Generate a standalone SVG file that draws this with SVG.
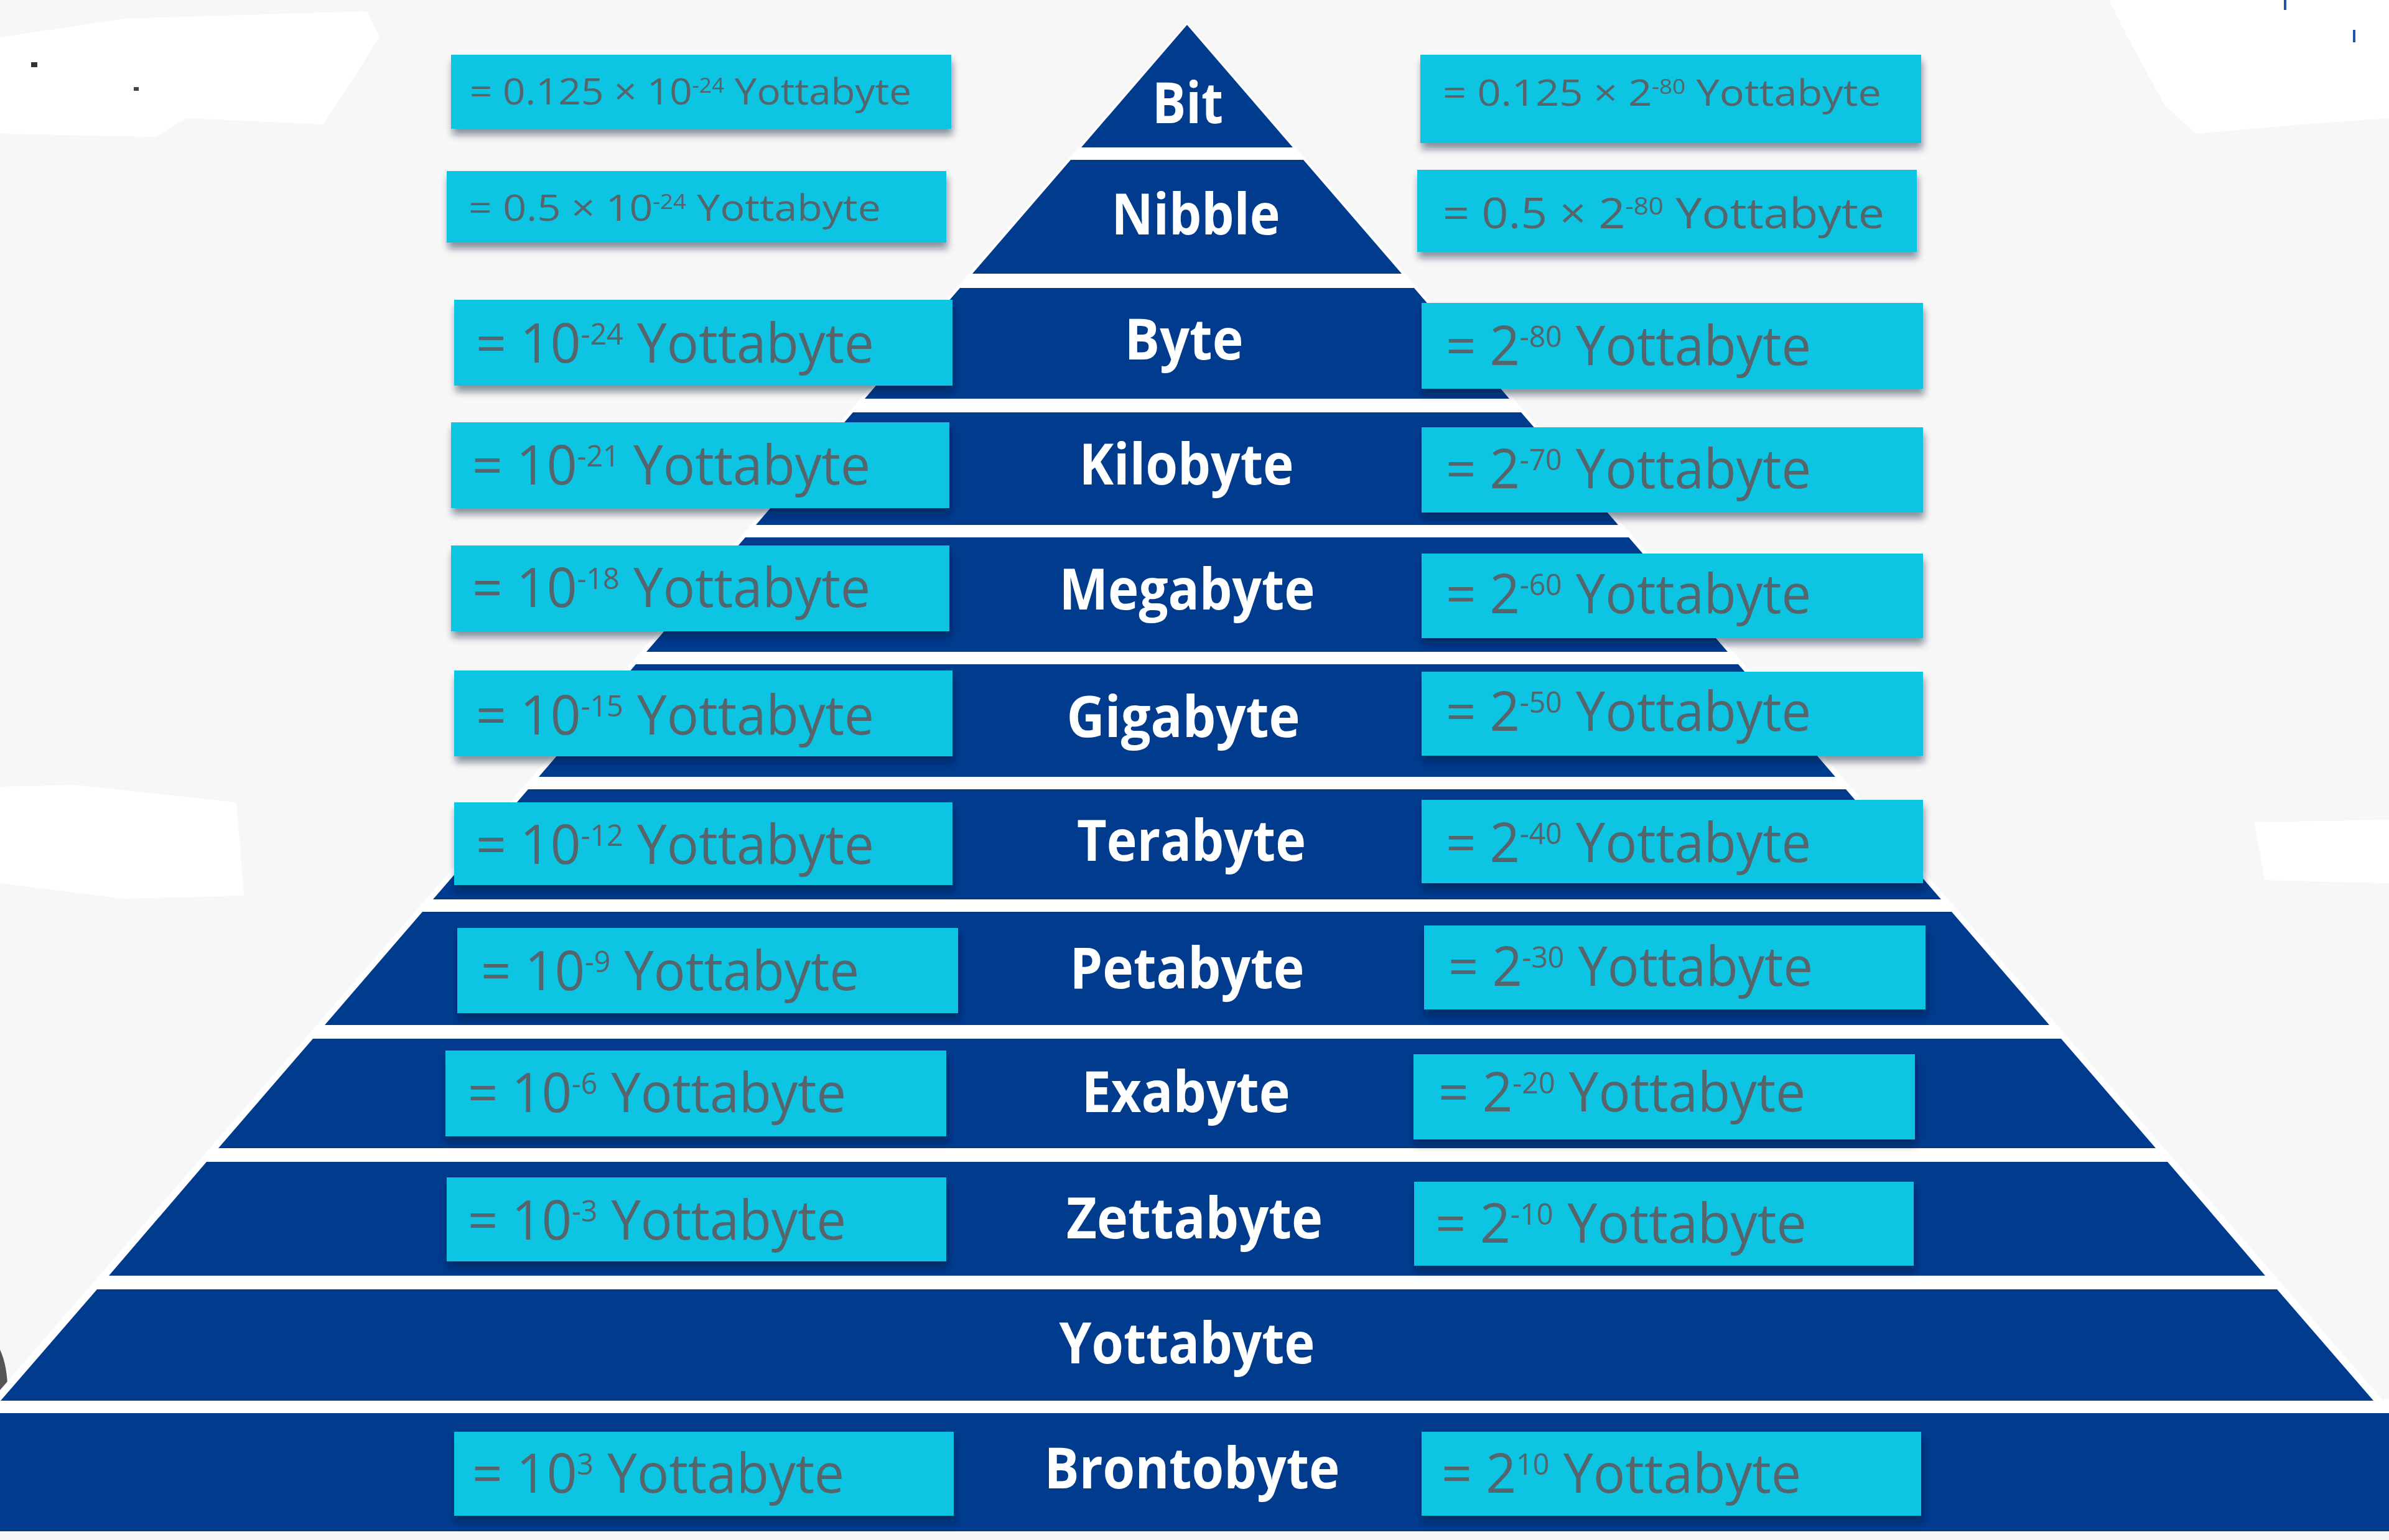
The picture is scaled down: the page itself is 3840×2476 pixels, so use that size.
<svg xmlns="http://www.w3.org/2000/svg" width="3840" height="2476" viewBox="0 0 3840 2476">
<defs>
<filter id="sh" x="-5%" y="-20%" width="110%" height="150%">
<feDropShadow dx="2" dy="10" stdDeviation="6" flood-color="#001235" flood-opacity="0.45"/>
</filter>
<style>
.band{fill:#003B8E}
.box{fill:#10C4E3;filter:url(#sh)}
.lbl{font-family:"Open Sans","Liberation Sans",sans-serif;font-weight:700;font-size:92px;fill:#ffffff;text-anchor:middle}
.val{font-family:"Open Sans","Liberation Sans",sans-serif;font-size:88px;fill:#56646B}
.sm{font-size:58px}
.md{font-size:68px}
</style>
</defs>
<rect x="0" y="0" width="3840" height="2476" fill="#F7F7F7"/>
<g id="background-marks">
<polygon points="0,60 200,30 590,18 610,60 520,200 300,190 250,220 0,215" fill="#FFFFFF"/>
<polygon points="3390,0 3840,0 3840,190 3700,200 3530,215 3480,170 3420,60" fill="#FFFFFF"/>
<polygon points="0,1265 120,1262 380,1290 392,1440 200,1445 0,1420" fill="#FFFFFF"/>
<polygon points="3624,1322 3840,1318 3840,1420 3640,1415" fill="#FFFFFF"/>
<rect x="50" y="100" width="10" height="8" fill="#333"/>
<rect x="215" y="140" width="8" height="6" fill="#444"/>
<rect x="3671" y="0" width="4" height="16" fill="#2255AA"/>
<rect x="3782" y="48" width="4" height="20" fill="#2255AA"/>
<path d="M0,2170 Q14,2200 12,2250 L8,2290 L0,2290 Z" fill="#555"/>
</g>
<g id="gaps">
<polygon points="1908,36 3848,2272 -32,2272" fill="#FFFFFF"/>
<rect x="0" y="2250" width="3840" height="24" fill="#FFFFFF"/>
</g>
<g id="connectors"></g>

<g id="bit">
<polygon class="band" points="1908,40 2078,237 1738,237"/>
<rect class="box" x="725" y="88" width="804" height="119"/>
<rect class="box" x="2283" y="88" width="805" height="142"/>
<text class="val sm" x="755" y="168" textLength="710" lengthAdjust="spacingAndGlyphs">= 0.125 × 10<tspan font-size="32" dy="-19">-24</tspan><tspan dy="19"> Yottabyte</tspan></text>
<text class="val sm" x="2319" y="170" textLength="705" lengthAdjust="spacingAndGlyphs">= 0.125 × 2<tspan font-size="32" dy="-19">-80</tspan><tspan dy="19"> Yottabyte</tspan></text>
<text class="lbl" x="1909" y="198" textLength="114" lengthAdjust="spacingAndGlyphs">Bit</text>
</g>

<g id="nibble">
<polygon class="band" points="1721,257 2095,257 2253,440 1563,440"/>
<rect class="box" x="718" y="275" width="803" height="115"/>
<rect class="box" x="2278" y="273" width="803" height="132"/>
<text class="val sm" x="753" y="355" textLength="663" lengthAdjust="spacingAndGlyphs">= 0.5 × 10<tspan font-size="32" dy="-19">-24</tspan><tspan dy="19"> Yottabyte</tspan></text>
<text class="val md" x="2319" y="367" textLength="710" lengthAdjust="spacingAndGlyphs">= 0.5 × 2<tspan font-size="38" dy="-22">-80</tspan><tspan dy="22"> Yottabyte</tspan></text>
<text class="lbl" x="1922" y="377" textLength="271" lengthAdjust="spacingAndGlyphs">Nibble</text>
</g>

<g id="byte">
<polygon class="band" points="1543,463 2273,463 2426,641 1390,641"/>
<rect class="box" x="730" y="482" width="801" height="138"/>
<rect class="box" x="2285" y="487" width="806" height="138"/>
<text class="val" x="765" y="583" textLength="640" lengthAdjust="spacingAndGlyphs">= 10<tspan font-size="48" dy="-29">-24</tspan><tspan dy="29"> Yottabyte</tspan></text>
<text class="val" x="2324" y="587" textLength="587" lengthAdjust="spacingAndGlyphs">= 2<tspan font-size="48" dy="-29">-80</tspan><tspan dy="29"> Yottabyte</tspan></text>
<text class="lbl" x="1903" y="578" textLength="191" lengthAdjust="spacingAndGlyphs">Byte</text>
</g>

<g id="kilobyte">
<polygon class="band" points="1371,663 2445,663 2601,844 1215,844"/>
<rect class="box" x="725" y="679" width="801" height="138"/>
<rect class="box" x="2285" y="687" width="806" height="137"/>
<text class="val" x="759" y="779" textLength="640" lengthAdjust="spacingAndGlyphs">= 10<tspan font-size="48" dy="-29">-21</tspan><tspan dy="29"> Yottabyte</tspan></text>
<text class="val" x="2324" y="785" textLength="587" lengthAdjust="spacingAndGlyphs">= 2<tspan font-size="48" dy="-29">-70</tspan><tspan dy="29"> Yottabyte</tspan></text>
<text class="lbl" x="1907" y="779" textLength="345" lengthAdjust="spacingAndGlyphs">Kilobyte</text>
</g>

<g id="megabyte">
<polygon class="band" points="1198,864 2618,864 2777,1048 1039,1048"/>
<rect class="box" x="725" y="877" width="801" height="138"/>
<rect class="box" x="2285" y="890" width="806" height="136"/>
<text class="val" x="759" y="976" textLength="640" lengthAdjust="spacingAndGlyphs">= 10<tspan font-size="48" dy="-29">-18</tspan><tspan dy="29"> Yottabyte</tspan></text>
<text class="val" x="2324" y="986" textLength="587" lengthAdjust="spacingAndGlyphs">= 2<tspan font-size="48" dy="-29">-60</tspan><tspan dy="29"> Yottabyte</tspan></text>
<text class="lbl" x="1908" y="980" textLength="411" lengthAdjust="spacingAndGlyphs">Megabyte</text>
</g>

<g id="gigabyte">
<polygon class="band" points="1022,1068 2794,1068 2950,1249 866,1249"/>
<rect class="box" x="730" y="1078" width="801" height="138"/>
<rect class="box" x="2285" y="1080" width="806" height="135"/>
<text class="val" x="765" y="1181" textLength="640" lengthAdjust="spacingAndGlyphs">= 10<tspan font-size="48" dy="-29">-15</tspan><tspan dy="29"> Yottabyte</tspan></text>
<text class="val" x="2324" y="1175" textLength="587" lengthAdjust="spacingAndGlyphs">= 2<tspan font-size="48" dy="-29">-50</tspan><tspan dy="29"> Yottabyte</tspan></text>
<text class="lbl" x="1902" y="1185" textLength="375" lengthAdjust="spacingAndGlyphs">Gigabyte</text>
</g>

<g id="terabyte">
<polygon class="band" points="849,1269 2967,1269 3120,1446 696,1446"/>
<rect class="box" x="730" y="1290" width="801" height="133"/>
<rect class="box" x="2285" y="1286" width="806" height="134"/>
<text class="val" x="765" y="1389" textLength="640" lengthAdjust="spacingAndGlyphs">= 10<tspan font-size="48" dy="-29">-12</tspan><tspan dy="29"> Yottabyte</tspan></text>
<text class="val" x="2324" y="1386" textLength="587" lengthAdjust="spacingAndGlyphs">= 2<tspan font-size="48" dy="-29">-40</tspan><tspan dy="29"> Yottabyte</tspan></text>
<text class="lbl" x="1915" y="1384" textLength="368" lengthAdjust="spacingAndGlyphs">Terabyte</text>
</g>

<g id="petabyte">
<polygon class="band" points="679,1466 3137,1466 3294,1648 522,1648"/>
<rect class="box" x="735" y="1492" width="805" height="137"/>
<rect class="box" x="2289" y="1488" width="806" height="135"/>
<text class="val" x="773" y="1592" textLength="608" lengthAdjust="spacingAndGlyphs">= 10<tspan font-size="48" dy="-29">-9</tspan><tspan dy="29"> Yottabyte</tspan></text>
<text class="val" x="2328" y="1585" textLength="586" lengthAdjust="spacingAndGlyphs">= 2<tspan font-size="48" dy="-29">-30</tspan><tspan dy="29"> Yottabyte</tspan></text>
<text class="lbl" x="1908" y="1589" textLength="377" lengthAdjust="spacingAndGlyphs">Petabyte</text>
</g>

<g id="exabyte">
<polygon class="band" points="503,1670 3313,1670 3465,1846 351,1846"/>
<rect class="box" x="716" y="1689" width="805" height="138"/>
<rect class="box" x="2272" y="1695" width="806" height="137"/>
<text class="val" x="752" y="1788" textLength="608" lengthAdjust="spacingAndGlyphs">= 10<tspan font-size="48" dy="-29">-6</tspan><tspan dy="29"> Yottabyte</tspan></text>
<text class="val" x="2312" y="1787" textLength="590" lengthAdjust="spacingAndGlyphs">= 2<tspan font-size="48" dy="-29">-20</tspan><tspan dy="29"> Yottabyte</tspan></text>
<text class="lbl" x="1906" y="1788" textLength="335" lengthAdjust="spacingAndGlyphs">Exabyte</text>
</g>

<g id="zettabyte">
<polygon class="band" points="332,1868 3484,1868 3641,2051 175,2051"/>
<rect class="box" x="718" y="1893" width="803" height="135"/>
<rect class="box" x="2273" y="1900" width="803" height="135"/>
<text class="val" x="752" y="1993" textLength="608" lengthAdjust="spacingAndGlyphs">= 10<tspan font-size="48" dy="-29">-3</tspan><tspan dy="29"> Yottabyte</tspan></text>
<text class="val" x="2307" y="1998" textLength="597" lengthAdjust="spacingAndGlyphs">= 2<tspan font-size="48" dy="-29">-10</tspan><tspan dy="29"> Yottabyte</tspan></text>
<text class="lbl" x="1920" y="1991" textLength="412" lengthAdjust="spacingAndGlyphs">Zettabyte</text>
</g>

<g id="yottabyte">
<polygon class="band" points="156,2073 3660,2073 3815,2252 1,2252"/>
<text class="lbl" x="1908" y="2192" textLength="411" lengthAdjust="spacingAndGlyphs">Yottabyte</text>
</g>

<g id="brontobyte">
<rect class="band" x="0" y="2272" width="3840" height="190"/>
<rect class="box" x="730" y="2302" width="803" height="135"/>
<rect class="box" x="2285" y="2302" width="803" height="135"/>
<text class="val" x="759" y="2400" textLength="598" lengthAdjust="spacingAndGlyphs">= 10<tspan font-size="48" dy="-29">3</tspan><tspan dy="29"> Yottabyte</tspan></text>
<text class="val" x="2317" y="2400" textLength="578" lengthAdjust="spacingAndGlyphs">= 2<tspan font-size="48" dy="-29">10</tspan><tspan dy="29"> Yottabyte</tspan></text>
<text class="lbl" x="1916" y="2393" textLength="475" lengthAdjust="spacingAndGlyphs">Brontobyte</text>
</g>
</svg>
